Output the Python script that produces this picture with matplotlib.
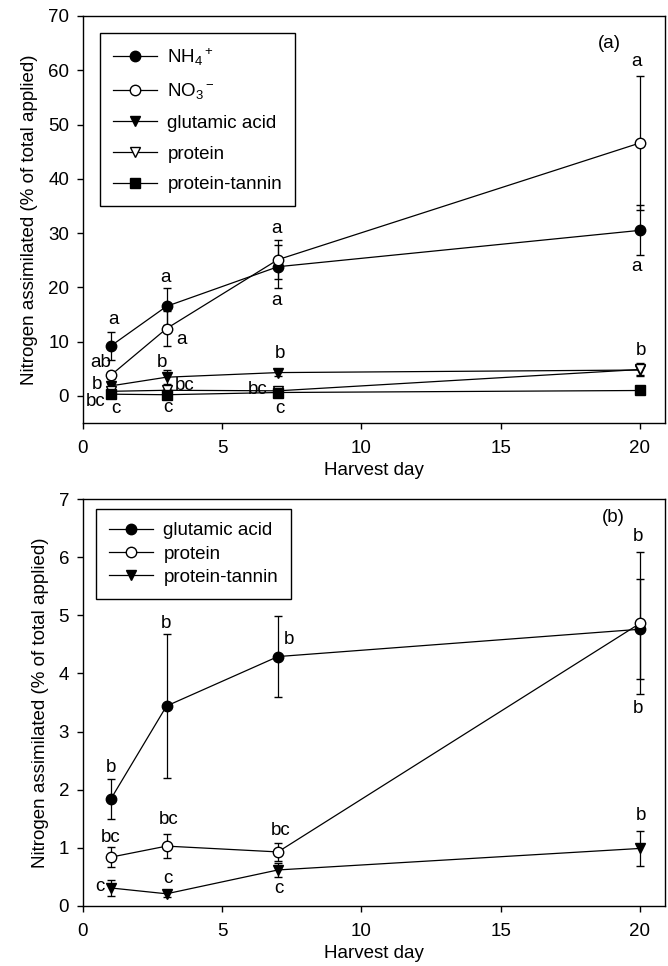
import matplotlib
matplotlib.use("Agg")
import matplotlib.pyplot as plt

plt.rcParams['font.family'] = ['Liberation Sans', 'DejaVu Sans']
plt.rcParams['mathtext.fontset'] = 'custom'
plt.rcParams['mathtext.rm'] = 'Liberation Sans'
plt.rcParams['mathtext.it'] = 'Liberation Sans:italic'

FS = 13.5

# ---------------- data ----------------
days = [1, 3, 7, 20]

nh4 = [9.2, 16.5, 23.8, 30.5]
nh4_err = [2.6, 3.4, 4.0, 4.6]
no3 = [3.8, 12.4, 25.1, 46.6]
no3_err = [0.6, 3.3, 3.6, 12.4]

glutamic = [1.84, 3.44, 4.29, 4.76]
glutamic_err = [0.34, 1.24, 0.70, 0.86]
protein = [0.84, 1.03, 0.93, 4.86]
protein_err = [0.17, 0.21, 0.15, 1.22]
tannin = [0.31, 0.21, 0.62, 0.99]
tannin_err = [0.13, 0.05, 0.12, 0.30]

labels_a = ['a', 'ab', 'b', 'bc', 'c', 'a', 'a', 'b', 'bc', 'c',
            'a', 'a', 'b', 'bc', 'c', 'a', 'a', 'b']
labels_a_x = [1.08, 0.65, 0.52, 0.46, 1.2, 2.96, 3.54, 2.82, 3.65, 3.04,
              6.95, 6.95, 7.07, 6.26, 7.07, 19.88, 19.88, 20.04]
labels_a_y = [14.1, 6.2, 2.1, -1.0, -2.3, 21.9, 10.4, 6.2, 1.95, -2.1,
              30.8, 17.6, 7.8, 1.2, -2.3, 61.6, 23.8, 8.4]

labels_b = ['b', 'bc', 'c', 'b', 'bc', 'c', 'b', 'bc', 'c', 'b', 'b', 'b']
labels_b_x = [1.0, 0.99, 0.62, 2.98, 3.06, 3.06, 7.4, 7.1, 7.04, 19.94, 19.94, 20.04]
labels_b_y = [2.39, 1.18, 0.34, 4.86, 1.48, 0.47, 4.59, 1.29, 0.30, 6.35, 3.40, 1.55]

fig = plt.figure(figsize=(6.68, 9.66), dpi=100)
ax1 = fig.add_axes([83/668, 1-423/966, 582/668, 407/966])
ax2 = fig.add_axes([83/668, 1-906/966, 582/668, 407/966])

ms = 7.5
lw = 0.9
cap = 3.2

def series(ax, y, err, marker, face, label):
    ax.errorbar(days, y, yerr=err, fmt='-', color='black', lw=lw,
                marker=marker, ms=ms, mfc=face, mec='black', mew=1.0,
                ecolor='black', elinewidth=lw, capsize=cap, capthick=lw,
                label=label)

# Panel a
series(ax1, nh4, nh4_err, 'o', 'black', r'NH$_4$$^+$')
series(ax1, no3, no3_err, 'o', 'white', r'NO$_3$$^-$')
series(ax1, glutamic, glutamic_err, 'v', 'black', 'glutamic acid')
series(ax1, protein, protein_err, 'v', 'white', 'protein')
series(ax1, tannin, tannin_err, 's', 'black', 'protein-tannin')

ax1.set_xlim(0, 20.9)
ax1.set_ylim(-5, 70)
ax1.set_yticks(range(0, 71, 10))
ax1.set_xticks(range(0, 21, 5))
for t, x, y in zip(labels_a, labels_a_x, labels_a_y):
    ax1.text(x, y, t, ha='center', va='center', fontsize=FS)
ax1.text(18.92, 65.0, '(a)', ha='center', va='center', fontsize=FS)

# Panel b
series(ax2, glutamic, glutamic_err, 'o', 'black', 'glutamic acid')
series(ax2, protein, protein_err, 'o', 'white', 'protein')
series(ax2, tannin, tannin_err, 'v', 'black', 'protein-tannin')

ax2.set_xlim(0, 20.9)
ax2.set_ylim(0, 7)
ax2.set_yticks(range(0, 8))
ax2.set_xticks(range(0, 21, 5))
for t, x, y in zip(labels_b, labels_b_x, labels_b_y):
    ax2.text(x, y, t, ha='center', va='center', fontsize=FS)
ax2.text(19.04, 6.68, '(b)', ha='center', va='center', fontsize=FS)

for ax in (ax1, ax2):
    for s in ax.spines.values():
        s.set_linewidth(1.0)
    ax.tick_params(direction='out', length=4.5, width=1.0, top=False, right=False,
                   labelsize=FS)
    ax.tick_params(axis='x', pad=8)
    ax.tick_params(axis='y', pad=5.5)
    ax.set_xlabel('Harvest day', fontsize=FS, labelpad=3)
    ax.set_ylabel('Nitrogen assimilated (% of total applied)', fontsize=FS, labelpad=7)

def make_legend(ax, anchor, spacing, bpad):
    handles, labs = ax.get_legend_handles_labels()
    hs = [h[0] for h in handles]
    leg = ax.legend(hs, labs, loc='upper left', bbox_to_anchor=anchor,
                    borderaxespad=0, numpoints=1, handlelength=2.35,
                    handletextpad=0.55, labelspacing=spacing, fancybox=False,
                    edgecolor='black', framealpha=1, fontsize=FS,
                    borderpad=bpad)
    leg.get_frame().set_linewidth(1.0)

make_legend(ax1, (0.029, 0.958), 0.72, 0.7)
make_legend(ax2, (0.022, 0.975), 0.32, 0.7)

fig.savefig('out.png', dpi=100)
